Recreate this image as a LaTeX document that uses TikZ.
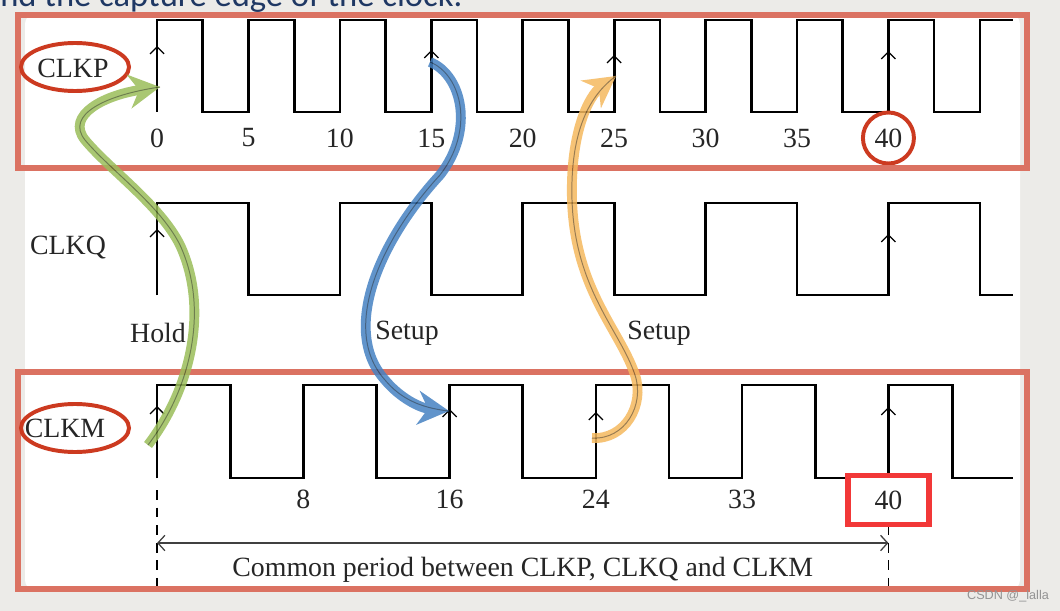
\documentclass[tikz,border=0pt]{standalone}
\usepackage{fontspec}
\setmainfont{Liberation Serif}
\newfontfamily\slidefont{Carlito}
\newfontfamily\markfont{Liberation Sans}
\usetikzlibrary{arrows.meta, shapes.geometric, positioning}

\definecolor{framered}{RGB}{219,114,98}
\definecolor{ringred}{RGB}{204,58,32}
\definecolor{boxred}{RGB}{242,56,56}
\definecolor{slidegray}{RGB}{236,235,232}
\definecolor{slidenavy}{RGB}{31,56,100}
\definecolor{holdgreen}{RGB}{155,190,90}
\definecolor{setupblue}{RGB}{70,130,195}
\definecolor{setuporange}{RGB}{245,185,95}

\begin{document}
\begin{tikzpicture}[x=0.025cm, y=-0.025cm,
  wave/.style={line width=1.9pt, line join=miter},
  edgetip/.style={line width=0.9pt, -{Straight Barb[length=5pt, width=10pt]}},
  sig/.style={font=\fontsize{19.8}{23}\selectfont, text=black!85},
  tick/.style={font=\fontsize{19.8}{23}\selectfont, text=black!85, inner sep=1pt},
  frame/.style={draw=framered, line width=4.8pt},
  ring/.style={draw=ringred, line width=2.8pt, ellipse, minimum width=2.7cm, minimum height=1.2cm},
  guide/.style={line width=0.9pt, dash pattern=on 7pt off 5.5pt},
  flow/.style={draw=#1, line width=7pt, -{Stealth[length=22pt, width=24pt, inset=7pt]},
    postaction={draw=#1!55!black, line width=0.7pt, -}},
]
  % slide background
  \useasboundingbox (0,0) rectangle (1060,611);
  \fill[slidegray] (0,0) rectangle (1060,611);
  \fill[white, rounded corners=7pt] (25,14) rectangle (1020,590);
  \node[anchor=base west, inner sep=0, text=slidenavy,
    font=\slidefont\fontsize{24.6}{28}\selectfont] (caption) at (0,6.5)
    {nd the capture edge of the clock.};

  % signal names
  \node[sig] (clkp) at (73,68) {CLKP};
  \node[sig] (clkq) at (68,248) {CLKQ};
  \node[sig] (clkm) at (65,428) {CLKM};
  \node[sig] (hold) at (158,333) {Hold};
  \node[sig] (setupa) at (407,333) {Setup};
  \node[sig] (setupb) at (659,333) {Setup};

  \begin{scope}[xshift=3.925cm, x=0.457cm]
    % CLKP, period 5
    \draw[wave] (0,112) foreach \t in {0,5,...,40} {
      -- (\t,20) -- (\t+2.5,20) -- (\t+2.5,112) -- (\t+5,112) }
      -- (45,20) -- (46.8,20);
    \foreach \t/\y in {0/46,15/50,25/55,40/51}
      \draw[edgetip] (\t,112) -- (\t,\y);
    \foreach \t in {0,5,...,35}
      \node[tick] (p\t) at (\t,138) {\t};
    \node[tick, circle, draw=ringred, line width=2.8pt, minimum size=1.275cm] (p40) at (40,138) {40};

    % CLKQ, period 10
    \draw[wave] (0,295) foreach \t in {0,10,...,30} {
      -- (\t,203) -- (\t+5,203) -- (\t+5,295) -- (\t+10,295) }
      -- (40,203) -- (45,203) -- (45,295) -- (46.8,295);
    \foreach \t/\y in {0/229,40/234}
      \draw[edgetip] (\t,295) -- (\t,\y);

    % CLKM, period 8
    \draw[wave] (0,478) foreach \t in {0,8,...,32} {
      -- (\t,385) -- (\t+4,385) -- (\t+4,478) -- (\t+8,478) }
      -- (40,385) -- (43.5,385) -- (43.5,478) -- (46.8,478);
    \foreach \t/\y in {0/406,16/409,24/412,40/407}
      \draw[edgetip] (\t,478) -- (\t,\y);
    \foreach \t/\l in {8/8,16/16,24/24,32/33}
      \node[tick] (m\t) at (\t,499) {\l};

    % common period
    \coordinate (d0) at (0,490);
    \coordinate (d0end) at (0,590);
    \coordinate (d40) at (40,490);
    \coordinate (d40end) at (40,590);
    \draw[guide] (d0) -- (d0end);
    \draw[guide] (d40) -- (d40end);
    \node[tick, fill=white, draw=boxred, line width=3.8pt,
      minimum width=2.025cm, minimum height=1.225cm] (m40) at (40,500) {40};
    \coordinate (span0) at (0,543);
    \coordinate (span40) at (40,543);
    \draw[line width=0.9pt, black!75,
      {Straight Barb[length=5pt, width=11pt]}-{Straight Barb[length=5pt, width=11pt]}]
      (span0) -- (span40);
    \node[font=\fontsize{19.8}{23}\selectfont, text=black!85] (common) at (20,570)
      {Common period between CLKP, CLKQ and CLKM};
  \end{scope}

  % highlight frames
  \draw[frame] (18,15) rectangle (1027,168);
  \draw[frame] (18,372) rectangle (1027,589);
  \node[ring] (ringp) at (75,67) {};
  \node[ring] (ringm) at (75,428) {};

  % hold / setup arrows
  \coordinate (holdA) at (148,445);
  \coordinate (holdB) at (160,87);
  \coordinate (setupaA) at (430,62);
  \coordinate (setupaB) at (449,411);
  \coordinate (setupbA) at (592,438);
  \coordinate (setupbB) at (616,76);
  \begin{scope}[transparency group, opacity=0.85]
    \draw[flow=holdgreen] (holdA) .. controls (190,390) and (210,310) .. (180,245)
      .. controls (160,205) and (110,170) .. (85,140)
      .. controls (65,115) and (105,95) .. (holdB);
  \end{scope}
  \begin{scope}[transparency group, opacity=0.85]
    \draw[flow=setupblue] (setupaA) .. controls (462,75) and (475,130) .. (440,175)
      .. controls (380,240) and (340,330) .. (385,380)
      .. controls (400,398) and (420,408) .. (setupaB);
  \end{scope}
  \begin{scope}[transparency group, opacity=0.85]
    \draw[flow=setuporange] (setupbA) .. controls (625,440) and (645,405) .. (635,375)
      .. controls (620,330) and (575,290) .. (572,200)
      .. controls (570,130) and (590,95) .. (setupbB);
  \end{scope}

  \node[font=\markfont\fontsize{9}{10}\selectfont, text=gray!85] (mark) at (1008,596) {CSDN @\_lalla};
\end{tikzpicture}
\end{document}
